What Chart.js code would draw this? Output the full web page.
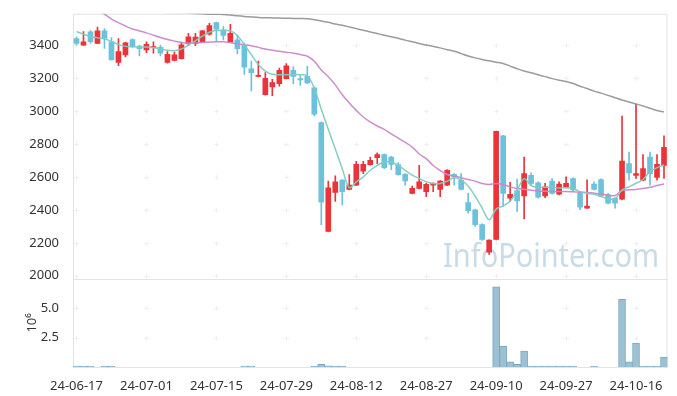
<!DOCTYPE html>
<html>
<head>
<meta charset="utf-8">
<script src="https://cdn.jsdelivr.net/npm/chart.js"></script>
<style>
  html, body { margin: 0; padding: 0; background: #fff; }
  #chart { display: block; }
</style>
</head>
<body>
<canvas id="chart" width="677" height="396"></canvas>
<script>
// trading days (yy-mm-dd)
const dates = [
  '24-06-17','24-06-18','24-06-19','24-06-20','24-06-21','24-06-24','24-06-25','24-06-26','24-06-27','24-06-28',
  '24-07-01','24-07-02','24-07-03','24-07-04','24-07-05','24-07-08','24-07-09','24-07-10','24-07-11','24-07-12',
  '24-07-15','24-07-16','24-07-17','24-07-18','24-07-19','24-07-22','24-07-23','24-07-24','24-07-25','24-07-26',
  '24-07-29','24-07-30','24-07-31','24-08-01','24-08-02','24-08-05','24-08-06','24-08-07','24-08-08','24-08-09',
  '24-08-12','24-08-13','24-08-14','24-08-16','24-08-19','24-08-20','24-08-21','24-08-22','24-08-23','24-08-26',
  '24-08-27','24-08-28','24-08-29','24-08-30','24-09-02','24-09-03','24-09-04','24-09-05','24-09-06','24-09-09',
  '24-09-10','24-09-11','24-09-12','24-09-13','24-09-19','24-09-20','24-09-23','24-09-24','24-09-25','24-09-26',
  '24-09-27','24-09-30','24-10-02','24-10-04','24-10-07','24-10-08','24-10-10','24-10-11','24-10-14','24-10-15',
  '24-10-16','24-10-17','24-10-18','24-10-21','24-10-22'
];

const open = [
  3442,3402,3482,3412,3488,3422,3296,3342,3436,3396,
  3372,3386,3388,3296,3308,3320,3410,3412,3420,3468,
  3538,3494,3420,3434,3400,3258,3212,3100,3148,3168,
  3198,3248,3198,3212,3142,2931,2270,2507,2581,2525,
  2551,2635,2675,2717,2737,2721,2675,2617,2501,2531,
  2511,2551,2525,2551,2617,2581,2445,2401,2311,2144,
  2220,2851,2471,2517,2485,2611,2565,2485,2575,2495,
  2537,2591,2501,2411,2557,2585,2491,2471,2465,2681,
  2609,2581,2721,2597,2671
];
const high = [
  3452,3484,3490,3512,3502,3448,3442,3420,3440,3400,
  3422,3422,3402,3362,3360,3420,3474,3474,3492,3534,
  3542,3514,3528,3464,3414,3304,3304,3234,3194,3262,
  3290,3270,3216,3272,3146,2935,2575,2607,2585,2615,
  2695,2695,2721,2747,2741,2725,2687,2621,2545,2671,
  2561,2565,2579,2645,2621,2621,2501,2405,2315,2218,
  2879,2853,2567,2587,2721,2625,2571,2561,2591,2571,
  2601,2595,2505,2583,2571,2589,2501,2475,2971,2751,
  3042,2737,2751,2737,2851
];
const low = [
  3402,3400,3412,3410,3382,3312,3276,3330,3388,3336,
  3356,3352,3336,3292,3305,3316,3398,3398,3418,3462,
  3424,3434,3418,3348,3224,3124,3208,3098,3094,3152,
  3196,3168,3156,3168,2972,2310,2266,2451,2431,2522,
  2548,2621,2672,2681,2651,2645,2611,2551,2498,2527,
  2481,2511,2481,2547,2551,2521,2381,2300,2215,2130,
  2218,2421,2451,2391,2346,2549,2471,2475,2495,2491,
  2533,2511,2401,2409,2521,2481,2437,2411,2461,2581,
  2591,2577,2551,2581,2591
];
const close = [
  3412,3422,3422,3488,3442,3312,3362,3416,3392,3380,
  3406,3392,3352,3346,3342,3404,3452,3450,3488,3520,
  3498,3460,3474,3380,3268,3234,3216,3200,3174,3248,
  3276,3212,3190,3172,2982,2447,2535,2571,2511,2551,
  2677,2677,2701,2737,2657,2677,2615,2577,2531,2571,
  2555,2561,2575,2641,2601,2525,2395,2311,2220,2216,
  2877,2501,2495,2455,2621,2561,2477,2541,2501,2557,
  2561,2521,2417,2423,2525,2485,2441,2441,2697,2625,
  2621,2651,2621,2677,2781
];

// moving averages as drawn on the reference
const ma5 = [
  3484,3468,3454,3446,3440,3424,3406,3394,3392,3390,
  3390,3386,3380,3370,3368,3378,3402,3428,3456,3480,
  3492,3490,3488,3460,3404,3344,3284,3244,3224,3222,
  3222,3222,3222,3216,3140,3012,2891,2771,2651,2535,
  2571,2601,2641,2671,2691,2691,2671,2641,2611,2591,
  2571,2561,2561,2575,2595,2581,2545,2483,2411,2341,
  2405,2425,2452,2520,2590,2548,2537,2538,2538,2533,
  2535,2530,2511,2501,2495,2481,2468,2467,2521,2541,
  2562,2585,2633,2657,2673
];
const ma20 = [
  3700,3670,3645,3615,3590,3560,3538,3518,3500,3488,
  3476,3462,3448,3436,3426,3418,3414,3414,3418,3420,
  3422,3422,3416,3410,3404,3398,3388,3378,3370,3364,
  3358,3352,3344,3334,3304,3250,3210,3160,3100,3050,
  3005,2965,2935,2910,2890,2862,2836,2810,2782,2740,
  2712,2670,2640,2615,2605,2596,2585,2575,2561,2555,
  2561,2555,2540,2530,2525,2520,2515,2513,2512,2512,
  2512,2510,2508,2506,2502,2497,2490,2488,2518,2522,
  2524,2530,2538,2548,2558
];
const ma120 = [
  3640,3636,3632,3628,3624,3620,3617,3614,3611,3608,
  3606,3604,3602,3600,3599,3598,3597,3594,3592,3590,
  3589,3588,3585,3580,3576,3573,3570,3568,3567,3566,
  3565,3564,3563,3562,3556,3548,3540,3530,3522,3512,
  3502,3492,3482,3472,3462,3453,3443,3432,3422,3412,
  3402,3394,3385,3374,3364,3350,3336,3324,3314,3306,
  3298,3290,3274,3258,3244,3234,3222,3210,3198,3188,
  3180,3168,3152,3138,3122,3110,3096,3082,3068,3056,
  3044,3032,3018,3004,2996
];

// volume (shares); null = no visible bar
const volume = [
  30000,30000,30000,null,30000,30000,null,null,null,null,
  null,null,null,null,null,null,null,null,null,null,
  null,null,null,null,30000,30000,null,null,null,null,
  null,null,null,null,30000,230000,100000,30000,30000,null,
  null,null,null,null,null,null,null,null,null,null,
  null,null,null,null,null,null,null,null,null,null,
  6800000,1760000,430000,230000,1360000,80000,80000,40000,40000,40000,
  40000,40000,null,null,40000,null,null,null,5750000,430000,
  2040000,80000,80000,80000,850000
];

const priceTicks = [2000, 2200, 2400, 2600, 2800, 3000, 3200, 3400];
const volumeTicks = [2500000, 5000000];

const RED = '#ea3439';
const BLUE = '#6cc1dc';
const candleColors = close.map((c, i) => c >= open[i] ? RED : BLUE);

// small "+" marks instead of full grid lines, plus the panel frame and watermark
const gridCrosses = {
  id: 'gridCrosses',
  beforeDatasetsDraw(chart) {
    const ctx = chart.ctx;
    const area = chart.chartArea;
    const x = chart.scales.x;
    const xs = x.ticks.map(t => x.getPixelForValue(t.value));
    ctx.save();
    ctx.strokeStyle = '#e3e3e3';
    ctx.lineWidth = 1;
    ctx.strokeRect(area.left + 0.5, area.top + 0.5, area.right - area.left - 1, area.bottom - area.top);
    const divider = Math.round(chart.scales.y.bottom) + 0.5;
    ctx.beginPath();
    ctx.moveTo(area.left, divider);
    ctx.lineTo(area.right, divider);
    ctx.stroke();
    ctx.strokeStyle = '#efefef';
    ['y', 'v'].forEach(id => {
      const s = chart.scales[id];
      s.ticks.forEach(t => {
        const py = Math.round(s.getPixelForValue(t.value)) + 0.5;
        xs.forEach(px => {
          px = Math.round(px) + 0.5;
          ctx.beginPath();
          ctx.moveTo(px - 2.5, py); ctx.lineTo(px + 2.5, py);
          ctx.moveTo(px, py - 2.5); ctx.lineTo(px, py + 2.5);
          ctx.stroke();
        });
      });
    });
    ctx.font = '33px "Noto Sans"';
    ctx.fillStyle = 'rgba(178, 204, 220, 0.7)';
    ctx.textAlign = 'right';
    ctx.textBaseline = 'alphabetic';
    ctx.fillText('InfoPointer.com', 659, 267, 216);
    ctx.restore();
  }
};

const tickFont = { family: '"Noto Sans", sans-serif', size: 13 };

new Chart(document.getElementById('chart'), {
  data: {
    labels: dates,
    datasets: [
      { type: 'line', data: ma5, borderColor: 'rgba(128, 203, 192, 0.95)', borderWidth: 1.5, pointRadius: 0, tension: 0.35, yAxisID: 'y', order: 0 },
      { type: 'line', data: ma20, borderColor: 'rgba(201, 136, 200, 0.95)', borderWidth: 1.5, pointRadius: 0, tension: 0.35, yAxisID: 'y', order: 0 },
      { type: 'line', data: ma120, borderColor: 'rgba(150, 150, 150, 0.95)', borderWidth: 1.5, pointRadius: 0, tension: 0.35, yAxisID: 'y', order: 0 },
      { type: 'bar', data: low.map((l, i) => [l, high[i]]), backgroundColor: candleColors, barThickness: 1, grouped: false, yAxisID: 'y', order: 2 },
      { type: 'bar', data: open.map((o, i) => [o, close[i]]), backgroundColor: candleColors, barThickness: 5, minBarLength: 1, grouped: false, yAxisID: 'y', order: 1 },
      { type: 'bar', data: volume, backgroundColor: '#9dc1d3', borderColor: '#7ba8c0', borderWidth: 1, barPercentage: 1, categoryPercentage: 1, minBarLength: 1, grouped: false, yAxisID: 'v', order: 3 }
    ]
  },
  options: {
    responsive: false,
    animation: false,
    events: [],
    layout: { padding: { top: 10, right: 9.5, left: 0, bottom: 0 } },
    plugins: { legend: { display: false }, tooltip: { enabled: false } },
    scales: {
      x: {
        type: 'category',
        offset: true,
        grid: { display: false },
        border: { display: false },
        ticks: { autoSkip: false, maxRotation: 0, padding: 3, color: '#333', font: tickFont },
        afterBuildTicks: s => { s.ticks = s.ticks.filter(t => t.value % 10 === 0); },
        afterFit: s => { s.height = 29; }
      },
      v: {
        position: 'left',
        stack: 'panels',
        stackWeight: 1,
        min: 0,
        max: 7500000,
        grid: { display: false },
        border: { display: false },
        title: { display: true, text: '10⁶', color: '#333', font: tickFont, padding: { top: 24, bottom: 0 } },
        ticks: { padding: 6, color: '#333', font: tickFont, callback: v => (v / 1000000).toFixed(1) },
        afterBuildTicks: s => { s.ticks = volumeTicks.map(v => ({ value: v })); },
        afterFit: s => { s.width = 73; }
      },
      y: {
        position: 'left',
        stack: 'panels',
        stackWeight: 3,
        min: 1982,
        max: 3592,
        grid: { display: false },
        border: { display: false },
        ticks: { padding: 6, color: '#333', font: tickFont, callback: v => String(v) },
        afterBuildTicks: s => { s.ticks = priceTicks.map(v => ({ value: v })); },
        afterFit: s => { s.width = 73; }
      }
    }
  },
  plugins: [gridCrosses]
});
</script>
</body>
</html>
